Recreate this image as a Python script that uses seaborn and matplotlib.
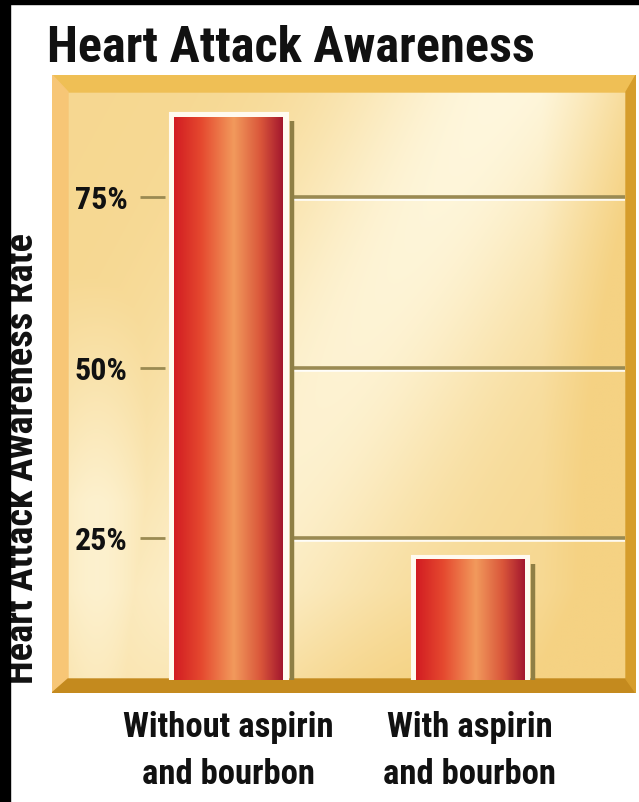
import matplotlib
matplotlib.use("Agg")

import numpy as np
import matplotlib.pyplot as plt
import matplotlib.patheffects as pe
from matplotlib.colors import LinearSegmentedColormap, to_rgb
from matplotlib.patches import Polygon, Rectangle
import seaborn as sns

TITLE = "Heart Attack Awareness"
Y_LABEL = "Heart Attack Awareness Rate"
CATEGORIES = ["Without aspirin\nand bourbon", "With aspirin\nand bourbon"]
AWARENESS = [86.7, 21.8]
TICKS = [25, 50, 75]
TICK_LABELS = ["25%", "50%", "75%"]

W, H = 639, 802
XLIM = (-0.263, 1.642)
YLIM = (4.18, 90.4)
OLIVE = "#9a8a52"
INK = "#111111"

sns.set_style("white")
plt.rcParams["font.family"] = ["Roboto Condensed", "DejaVu Sans Condensed",
                               "Liberation Sans Narrow", "Roboto", "DejaVu Sans"]
plt.rcParams["font.weight"] = "bold"


def px_box(left, top, right, bottom):
    return [left / W, 1 - bottom / H, (right - left) / W, (bottom - top) / H]


fig = plt.figure(figsize=(W / 100, H / 100), dpi=100)
fig.patch.set_facecolor("white")
renderer = fig.canvas.get_renderer()


def fitted_size(texts, size, target, vertical=False):
    # font size that makes the widest text span `target` pixels
    ext = [t.get_window_extent(renderer) for t in texts]
    cur = max(e.height if vertical else e.width for e in ext)
    return size * target / cur


# black scan edges
fig.add_artist(Rectangle((0, 0), 10 / W, 1, transform=fig.transFigure, color="black", zorder=5))
fig.add_artist(Rectangle((0, 1 - 4 / H), 1, 4 / H, transform=fig.transFigure, color="black", zorder=5))

# bevelled golden panel behind the plot
bg = fig.add_axes(px_box(52, 75, 636, 693), zorder=0)
bg.set_axis_off()
bw, bh = 584, 618

ny, nx = 300, 280
yy, xx = np.mgrid[0:1:ny * 1j, 0:1:nx * 1j]
d = xx - 0.78 + 0.6 * yy
sheen = np.exp(-(d / 0.3) ** 2) * (1 - 0.3 * yy)
left_glow = np.exp(-((xx - 0.05) / 0.12) ** 2) * np.clip((yy - 0.3) / 0.4, 0, 1)
edge = np.clip((xx - 0.85) / 0.15, 0, 1) + np.clip((yy - 0.85) / 0.15, 0, 1) * 0.5
t = np.clip(0.15 + 0.8 * np.maximum(sheen, 0.8 * left_glow) - 0.35 * edge, 0, 1)
dark = np.array(to_rgb("#f5d283"))
light = np.array(to_rgb("#fff9e2"))
img = dark + t[..., None] * (light - dark)
bg.imshow(img, extent=(16, bw - 10, bh - 14, 17), aspect="auto", interpolation="bilinear")

bg.add_patch(Polygon([(0, 0), (bw, 0), (bw - 10, 17), (16, 17)], color="#efbf55"))
bg.add_patch(Polygon([(0, 0), (16, 17), (16, bh - 14), (0, bh)], color="#f7c676"))
bg.add_patch(Polygon([(0, bh), (16, bh - 14), (bw - 10, bh - 14), (bw, bh)], color="#c48a1e"))
bg.add_patch(Polygon([(bw, 0), (bw - 10, 17), (bw - 10, bh - 14), (bw, bh)], color="#d69d2c"))
bg.set_xlim(0, bw)
bg.set_ylim(bh, 0)

# the bars
ax = fig.add_axes(px_box(165, 92, 625, 680), zorder=1)
ax.patch.set_alpha(0)
sns.barplot(x=CATEGORIES, y=AWARENESS, ax=ax, width=0.45, color="#e05030",
            saturation=1, edgecolor="#fffaf0", linewidth=8)
ax.set_xlim(*XLIM)
ax.set_ylim(*YLIM)

bar_cmap = LinearSegmentedColormap.from_list(
    "bar", [(0, "#d21c22"), (0.25, "#e5492f"), (0.55, "#f29a5c"), (0.8, "#d9553a"), (1, "#a3172e")])
grad = np.linspace(0, 1, 256)[None, :]
for bar in list(ax.patches):
    bar.set_clip_on(True)
    bar.set_clip_box(ax.bbox)
    x0, h = bar.get_x(), bar.get_height()
    im = ax.imshow(grad, cmap=bar_cmap, aspect="auto", interpolation="bilinear",
                   extent=(x0, x0 + bar.get_width(), 0, h), zorder=bar.get_zorder() + 0.1)
    im.set_clip_path(bar)
    im.set_clip_box(ax.bbox)
    ax.vlines(x0 + bar.get_width() + 0.037, 0, h - 0.6, color="#8f7f45", lw=3.2, zorder=0.8)

first = ax.patches[0]
x_start = first.get_x() + first.get_width() + 0.037
ax.hlines(TICKS, x_start, XLIM[1], color=OLIVE, lw=2.6, zorder=0.5,
          path_effects=[pe.SimpleLineShadow(offset=(0, -1.6), shadow_color="white", alpha=0.9), pe.Normal()])

ax.set_xlim(*XLIM)
ax.set_ylim(*YLIM)
ax.set_yticks(TICKS, TICK_LABELS)
ax.tick_params(axis="y", left=True, direction="out", length=18, width=2, color=OLIVE,
               pad=9, labelsize=20, labelcolor=INK)
ax.tick_params(axis="x", bottom=False, length=0, pad=22, labelsize=20, labelcolor=INK)
sns.despine(ax=ax, left=True, bottom=True)
ax.set_xlabel("")
ax.set_ylabel("")

# size texts to the widths they have in the chart
ax.tick_params(axis="y", labelsize=fitted_size(ax.get_yticklabels(), 20, 53))
ax.tick_params(axis="x", labelsize=fitted_size(ax.get_xticklabels(), 20, 210))
for lbl in ax.get_xticklabels():
    lbl.set_linespacing(1.55)

ylab = fig.text(23 / W, 1 - 459 / H, Y_LABEL, rotation=90, ha="center", va="center",
                fontsize=20, color=INK)
ylab.set_fontsize(fitted_size([ylab], 20, 448, vertical=True))
title = fig.text(47 / W, 1 - 62 / H, TITLE, ha="left", va="baseline", fontsize=30, color=INK)
title.set_fontsize(fitted_size([title], 30, 488))

fig.savefig("out.png", dpi=100)
plt.close(fig)
print("Saved out.png")
